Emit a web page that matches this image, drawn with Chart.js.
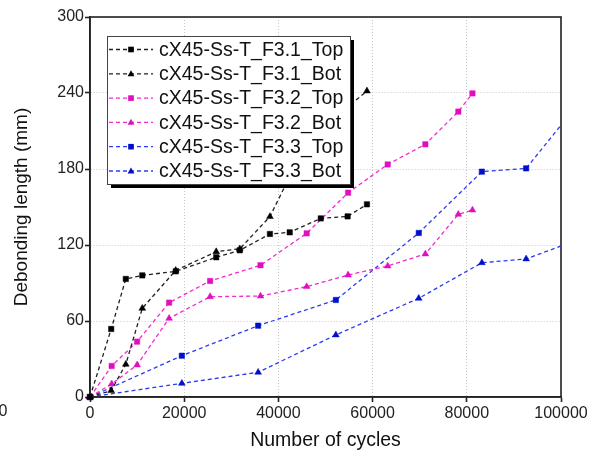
<!DOCTYPE html>
<html>
<head>
<meta charset="utf-8">
<script src="https://cdn.jsdelivr.net/npm/chart.js@4.4.0/dist/chart.umd.min.js"></script>
<style>
  html, body { margin: 0; padding: 0; background: #fff; }
  #wrap { width: 592px; height: 458px; }
</style>
</head>
<body>
<div id="wrap"><canvas id="lineChart" width="592" height="458"></canvas></div>
<script>
// data
var seriesNames = [
    'cX45-Ss-T_F3.1_Top',
    'cX45-Ss-T_F3.1_Bot',
    'cX45-Ss-T_F3.2_Top',
    'cX45-Ss-T_F3.2_Bot',
    'cX45-Ss-T_F3.3_Top',
    'cX45-Ss-T_F3.3_Bot'
];

var cyclesF31 = [0, 4500, 7600, 11100, 18200, 26800, 31800, 38200, 42400, 49000, 54700, 58800];
var topF31 = [0, 53.7, 93.2, 96, 99.2, 110.3, 115.8, 128.7, 130, 141, 142.6, 152.1];
var botF31 = [0, 5, 25.8, 70, 100, 114.7, 117, 142.4, 174, 200, 229, 241.6];

var cyclesF32 = [0, 4600, 10000, 16800, 25500, 36200, 46000, 54800, 63200, 71200, 78200, 81200];
var topF32 = [0, 24.5, 43.7, 74.5, 91.6, 104, 129.2, 161.3, 183.6, 199.5, 225.3, 239.7];
var botF32 = [0, 10.3, 25.3, 62.1, 79.2, 79.7, 87.1, 96.3, 103.4, 112.9, 144.2, 147.6];

var cyclesF33 = [0, 19500, 35700, 52200, 69800, 83200, 92600, 104000];
var topF33 = [0, 32.6, 56.3, 76.6, 129.5, 177.9, 180.5, 233];
var botF33 = [0, 10.8, 19.5, 49, 77.9, 106, 109, 124.7];

var xTicks = [0, 20000, 40000, 60000, 80000, 100000];
var yTicks = [0, 60, 120, 180, 240, 300];

var FONT = "'Liberation Sans', Arial, sans-serif";

function pairs(xs, ys) {
    var out = [];
    for (var i = 0; i < xs.length; i++) out.push({ x: xs[i], y: ys[i] });
    return out;
}

function makeSet(label, xs, ys, color, marker, style) {
    return {
        label: label,
        data: pairs(xs, ys),
        borderColor: color,
        backgroundColor: marker,
        pointBorderColor: marker,
        pointBackgroundColor: marker,
        pointStyle: style,
        pointRadius: style === 'rect' ? 3.8 : 3.9,
        pointBorderWidth: 0.5,
        borderWidth: 1.3,
        borderDash: [4, 3],
        fill: false,
        tension: 0,
        clip: { left: 6, top: 6, right: 0, bottom: 6 }
    };
}

// frame around the plot + stray "0" at the far left
var framePlugin = {
    id: 'frame',
    beforeDatasetsDraw: function(chart) {
        var a = chart.chartArea, ctx = chart.ctx;
        ctx.save();
        ctx.strokeStyle = '#222';
        ctx.lineWidth = 1.6;
        ctx.strokeRect(a.left, a.top, a.right - a.left, a.bottom - a.top);
        ctx.fillStyle = '#222';
        ctx.font = '16px ' + FONT;
        ctx.textAlign = 'center';
        ctx.textBaseline = 'middle';
        ctx.fillText('0', 3, 412);
        ctx.restore();
    }
};

// boxed legend with drop shadow, inside the plot
var legendPlugin = {
    id: 'boxLegend',
    afterDatasetsDraw: function(chart) {
        var ctx = chart.ctx;
        var x0 = 107, y0 = 36, w = 243, h = 148;
        ctx.save();
        ctx.fillStyle = '#000';
        ctx.fillRect(x0 + 4, y0 + 4, w, h);
        ctx.fillStyle = '#fff';
        ctx.fillRect(x0, y0, w, h);
        ctx.strokeStyle = '#444';
        ctx.lineWidth = 1;
        ctx.strokeRect(x0 + 0.5, y0 + 0.5, w, h);

        chart.data.datasets.forEach(function(ds, i) {
            var y = 49.5 + i * 24.3;
            ctx.strokeStyle = ds.borderColor;
            ctx.lineWidth = 1.3;
            ctx.setLineDash([4, 3]);
            ctx.beginPath();
            ctx.moveTo(109, y);
            ctx.lineTo(153, y);
            ctx.stroke();
            ctx.setLineDash([]);
            ctx.fillStyle = ds.pointBackgroundColor;
            var mx = 131;
            if (ds.pointStyle === 'rect') {
                ctx.fillRect(mx - 2.8, y - 2.8, 5.6, 5.6);
            } else {
                ctx.beginPath();
                ctx.moveTo(mx, y - 3.6);
                ctx.lineTo(mx + 3.4, y + 2.4);
                ctx.lineTo(mx - 3.4, y + 2.4);
                ctx.closePath();
                ctx.fill();
            }
            ctx.fillStyle = '#111';
            ctx.font = '19.5px ' + FONT;
            ctx.textAlign = 'left';
            ctx.textBaseline = 'middle';
            ctx.fillText(ds.label, 159, y + 1);
        });
        ctx.restore();
    }
};

var ctx = document.getElementById('lineChart').getContext('2d');
var lineChart = new Chart(ctx, {
    type: 'line',
    data: {
        datasets: [
            makeSet(seriesNames[0], cyclesF31, topF31, '#222', '#000', 'rect'),
            makeSet(seriesNames[1], cyclesF31, botF31, '#222', '#000', 'triangle'),
            makeSet(seriesNames[2], cyclesF32, topF32, '#f02ad0', '#e00fbe', 'rect'),
            makeSet(seriesNames[3], cyclesF32, botF32, '#f02ad0', '#e00fbe', 'triangle'),
            makeSet(seriesNames[4], cyclesF33, topF33, '#2a3cf0', '#0010c8', 'rect'),
            makeSet(seriesNames[5], cyclesF33, botF33, '#2a3cf0', '#0010c8', 'triangle')
        ]
    },
    options: {
        responsive: false,
        animation: false,
        layout: { padding: { top: 17, right: 31, left: 0, bottom: 0 } },
        plugins: {
            legend: { display: false },
            tooltip: { enabled: false }
        },
        scales: {
            x: {
                type: 'linear',
                min: 0,
                max: 100000,
                afterFit: function(scale) { scale.height = 61; },
                afterBuildTicks: function(scale) {
                    scale.ticks = xTicks.map(function(v) { return { value: v }; });
                },
                ticks: {
                    color: '#222',
                    font: { family: FONT, size: 16 },
                    padding: 2,
                    maxRotation: 0,
                    autoSkip: false,
                    callback: function(v) { return String(v); }
                },
                grid: {
                    color: '#c8c8c8',
                    lineWidth: 1,
                    tickLength: 5,
                    tickColor: '#222',
                    tickWidth: 1.6
                },
                border: { display: true, color: '#222', width: 1.6, dash: [1, 2] },
                title: {
                    display: true,
                    text: 'Number of cycles',
                    color: '#111',
                    font: { family: FONT, size: 19.5 },
                    padding: { top: 0, bottom: 6 }
                }
            },
            y: {
                min: 0,
                max: 300,
                afterFit: function(scale) { scale.width = 90; },
                afterBuildTicks: function(scale) {
                    scale.ticks = yTicks.map(function(v) { return { value: v }; });
                },
                ticks: {
                    color: '#222',
                    font: { family: FONT, size: 16 },
                    padding: 1,
                    autoSkip: false,
                    callback: function(v) { return String(v); }
                },
                grid: {
                    color: '#c8c8c8',
                    lineWidth: 1,
                    tickLength: 5,
                    tickColor: '#222',
                    tickWidth: 1.6
                },
                border: { display: true, color: '#222', width: 1.6, dash: [1, 2] },
                title: {
                    display: true,
                    text: 'Debonding length (mm)',
                    color: '#111',
                    font: { family: FONT, size: 19 },
                    padding: { top: 10, bottom: 0 }
                }
            }
        }
    },
    plugins: [framePlugin, legendPlugin]
});
</script>
</body>
</html>
